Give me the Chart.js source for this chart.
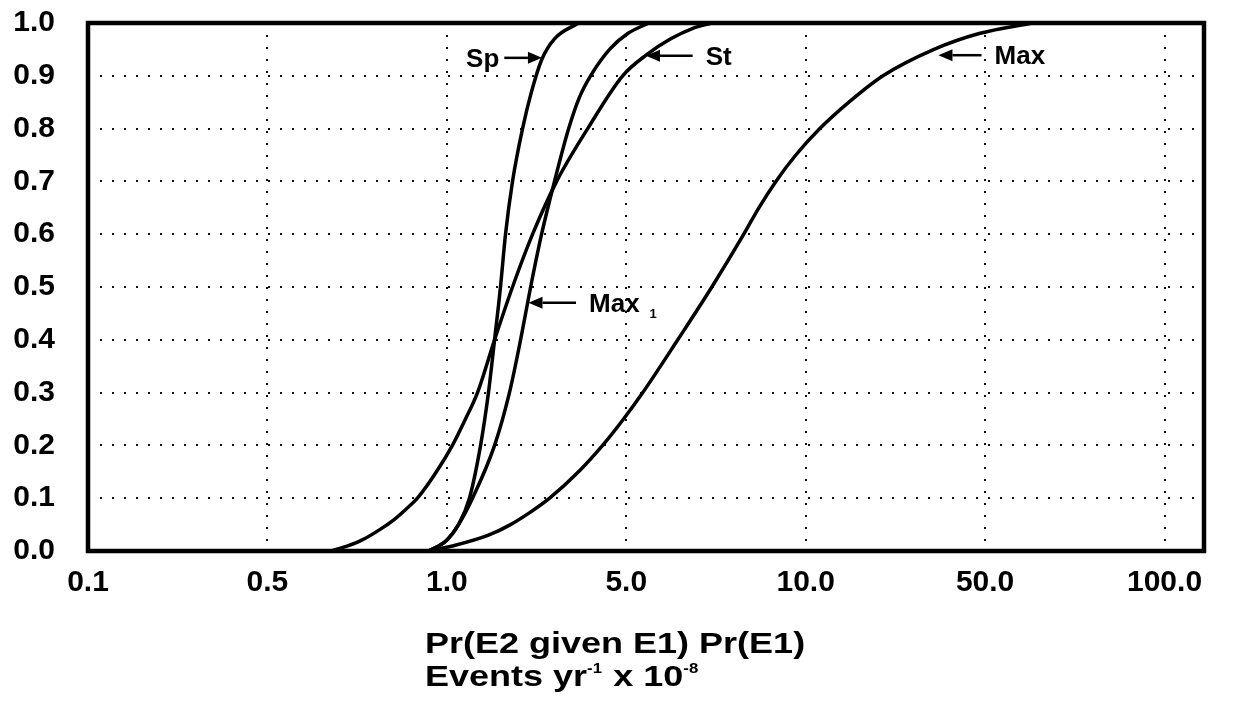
<!DOCTYPE html>
<html>
<head>
<meta charset="utf-8">
<script src="https://cdn.jsdelivr.net/npm/chart.js@4.4.1/dist/chart.umd.min.js"></script>
<style>
  html, body { margin: 0; padding: 0; background: #fff; }
</style>
</head>
<body>
<canvas id="myChart" width="1233" height="705"></canvas>
<script>
// x axis ticks are evenly spaced, so curve x values are given as positions
// in tick steps: 0 = 0.1, 1 = 0.5, 2 = 1.0, 3 = 5.0, 4 = 10.0 ...
const xTickLabels = ["0.1", "0.5", "1.0", "5.0", "10.0", "50.0", "100.0"];
const yTickValues = [0, 0.1, 0.2, 0.3, 0.4, 0.5, 0.6, 0.7, 0.8, 0.9, 1.0];

const spX = [1.897, 1.998, 2.065, 2.126, 2.188, 2.232, 2.266, 2.299, 2.327, 2.366, 2.422, 2.472, 2.528, 2.600, 2.734];
const spY = [0, 0.02, 0.05, 0.1, 0.2, 0.3, 0.4, 0.5, 0.6, 0.7, 0.8, 0.87, 0.93, 0.97, 1.0];

const max1X = [1.897, 1.998, 2.065, 2.143, 2.266, 2.349, 2.411, 2.467, 2.528, 2.600, 2.679, 2.740, 2.801, 2.907, 3.008, 3.125];
const max1Y = [0, 0.02, 0.05, 0.1, 0.2, 0.3, 0.4, 0.5, 0.6, 0.7, 0.8, 0.86, 0.9, 0.95, 0.98, 1.0];

const stX = [1.356, 1.451, 1.523, 1.624, 1.708, 1.775, 1.836, 1.942, 2.031, 2.104, 2.171, 2.266, 2.366, 2.478, 2.612, 2.785, 2.980, 3.114, 3.248, 3.371, 3.477];
const stY = [0, 0.01, 0.02, 0.04, 0.06, 0.08, 0.1, 0.15, 0.2, 0.25, 0.3, 0.4, 0.5, 0.6, 0.7, 0.8, 0.9, 0.94, 0.97, 0.99, 1.0];

const maxX = [1.897, 2.037, 2.232, 2.355, 2.472, 2.573, 2.734, 2.868, 2.985, 3.092, 3.287, 3.477, 3.655, 3.739, 3.834, 3.945, 4.079, 4.241, 4.431, 4.715, 4.967, 5.262];
const maxY = [0, 0.01, 0.03, 0.05, 0.075, 0.1, 0.15, 0.2, 0.25, 0.3, 0.4, 0.5, 0.6, 0.65, 0.7, 0.75, 0.8, 0.85, 0.9, 0.95, 0.98, 1.0];

// curve labels: arrow tip (on the curve), arrow tail, label side
const labelNames = ["Sp", "St", "Max", "Max"];
const labelSubs = ["", "", "", "1"];
const arrowTipX = [2.53, 3.11, 4.74, 2.455];
const arrowTailX = [2.32, 3.37, 4.98, 2.72];
const arrowY = [0.934, 0.938, 0.939, 0.470];

const FONT = "'Liberation Sans', Arial, Helvetica, sans-serif";

function toPoints(xs, ys) {
  return xs.map((x, i) => ({ x: x, y: ys[i] }));
}

function curve(label, xs, ys) {
  return {
    label: label,
    data: toPoints(xs, ys),
    borderColor: "#000",
    borderWidth: 3.5,
    pointRadius: 0,
    fill: false,
    cubicInterpolationMode: "monotone",
  };
}

// heavy box round the plot area
const frame = {
  id: "frame",
  afterDatasetsDraw(chart) {
    const a = chart.chartArea;
    const ctx = chart.ctx;
    ctx.save();
    ctx.strokeStyle = "#000";
    ctx.lineWidth = 4.5;
    ctx.strokeRect(a.left, a.top, a.right - a.left, a.bottom - a.top);
    ctx.restore();
  },
};

// arrows and names next to the curves
const curveLabels = {
  id: "curveLabels",
  afterDraw(chart) {
    const ctx = chart.ctx;
    const xs = chart.scales.x;
    const ys = chart.scales.y;
    ctx.save();
    ctx.fillStyle = "#000";
    ctx.strokeStyle = "#000";
    labelNames.forEach((name, i) => {
      const tip = xs.getPixelForValue(arrowTipX[i]);
      const tail = xs.getPixelForValue(arrowTailX[i]);
      const y = ys.getPixelForValue(arrowY[i]);
      const dir = tip > tail ? 1 : -1;
      const head = 14;
      ctx.lineWidth = 2.5;
      ctx.beginPath();
      ctx.moveTo(tail, y);
      ctx.lineTo(tip - dir * head, y);
      ctx.stroke();
      ctx.beginPath();
      ctx.moveTo(tip, y);
      ctx.lineTo(tip - dir * head, y - 6);
      ctx.lineTo(tip - dir * head, y + 6);
      ctx.closePath();
      ctx.fill();

      ctx.font = "bold 26px " + FONT;
      ctx.textBaseline = "alphabetic";
      if (dir > 0) {
        ctx.textAlign = "right";
        ctx.fillText(name, tail - 5, y + 9);
      } else {
        ctx.textAlign = "left";
        ctx.fillText(name, tail + 13, y + 9);
        if (labelSubs[i]) {
          const w = ctx.measureText(name).width;
          ctx.font = "bold 13px " + FONT;
          ctx.fillText(labelSubs[i], tail + 13 + w + 10, y + 15);
        }
      }
    });
    ctx.restore();
  },
};

// two-line x axis title with superscripts
const axisTitle = {
  id: "axisTitle",
  afterDraw(chart) {
    const ctx = chart.ctx;
    ctx.save();
    ctx.fillStyle = "#000";
    ctx.textAlign = "left";
    ctx.textBaseline = "alphabetic";
    ctx.translate(425, 0);
    ctx.scale(1.2, 1);
    const big = "bold 30px " + FONT;
    const small = "bold 14px " + FONT;
    ctx.font = big;
    ctx.fillText("Pr(E2 given E1) Pr(E1)", 0, 653);

    let x = 0;
    const base = 686;
    const parts = [
      ["Events yr", big, 0],
      ["-1", small, -13],
      [" x 10", big, 0],
      ["-8", small, -13],
    ];
    parts.forEach(([t, f, dy]) => {
      ctx.font = f;
      ctx.fillText(t, x, base + dy);
      x += ctx.measureText(t).width + (dy ? 1 : 0);
    });
    ctx.restore();
  },
};

const ctx = document.getElementById("myChart").getContext("2d");
const myChart = new Chart(ctx, {
  type: "line",
  data: {
    datasets: [
      curve("Sp", spX, spY),
      curve("Max 1", max1X, max1Y),
      curve("St", stX, stY),
      curve("Max", maxX, maxY),
    ],
  },
  options: {
    responsive: false,
    animation: false,
    devicePixelRatio: 1,
    layout: { padding: { top: 23, right: 29, left: 0, bottom: 0 } },
    plugins: {
      legend: { display: false },
      tooltip: { enabled: false },
    },
    scales: {
      x: {
        type: "linear",
        min: 0,
        max: 6.22,
        afterBuildTicks: (scale) => {
          scale.ticks = xTickLabels.map((_, i) => ({ value: i }));
        },
        afterFit: (scale) => {
          scale.height = 154;
          scale.paddingLeft = 0;
          scale.paddingRight = 0;
        },
        ticks: {
          color: "#000",
          padding: 14,
          maxRotation: 0,
          autoSkip: false,
          font: { family: FONT, size: 30, weight: "bold" },
          callback: (v) => xTickLabels[v],
        },
        grid: { color: "#111", lineWidth: 2, drawTicks: false },
        border: { display: false, dash: [2, 10] },
      },
      y: {
        type: "linear",
        min: 0,
        max: 1,
        afterBuildTicks: (scale) => {
          scale.ticks = yTickValues.map((v) => ({ value: v }));
        },
        afterFit: (scale) => {
          scale.width = 88;
          scale.paddingTop = 0;
          scale.paddingBottom = 0;
        },
        ticks: {
          color: "#000",
          padding: 33,
          font: { family: FONT, size: 30, weight: "bold" },
          callback: (v) => v.toFixed(1),
        },
        grid: { color: "#111", lineWidth: 2, drawTicks: false },
        border: { display: false, dash: [2, 10] },
      },
    },
  },
  plugins: [frame, curveLabels, axisTitle],
});
</script>
</body>
</html>
